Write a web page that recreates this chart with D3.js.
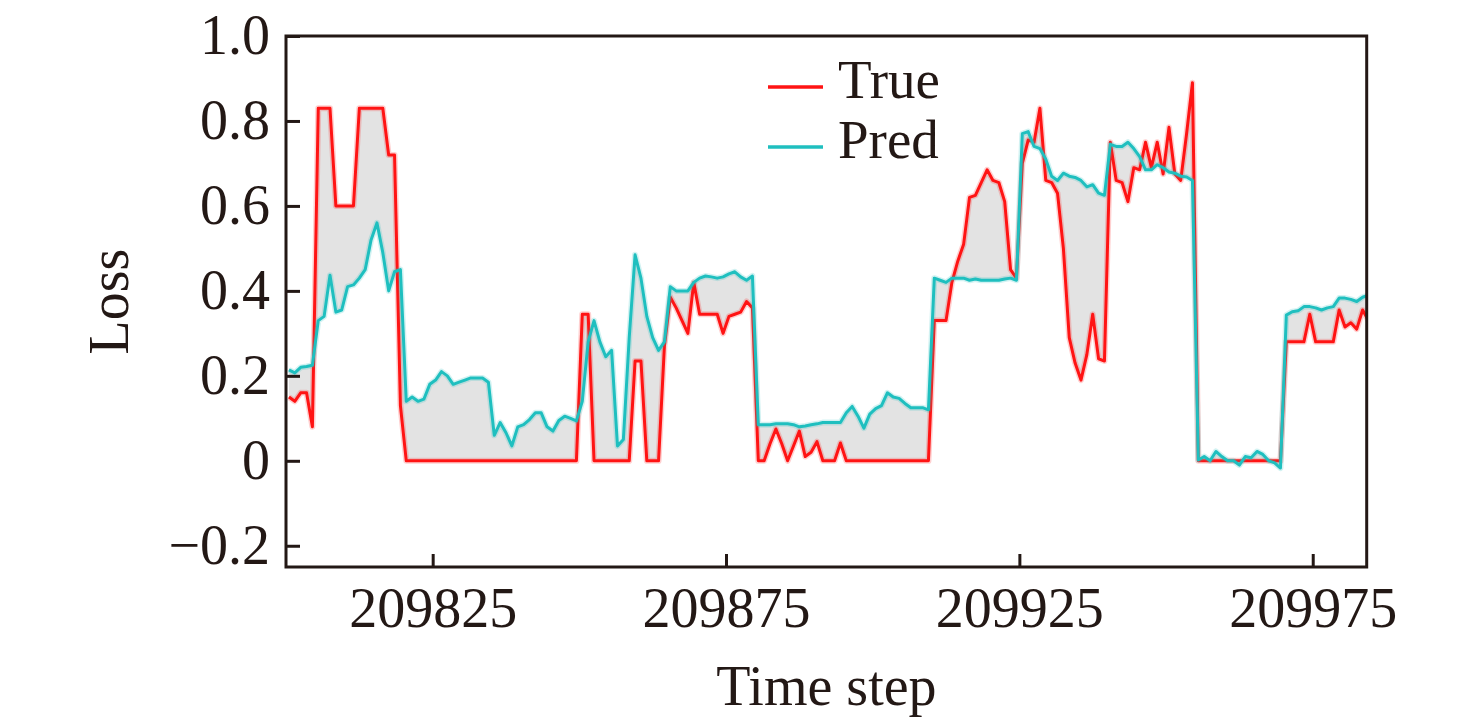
<!DOCTYPE html>
<html>
<head>
<meta charset="utf-8">
<script src="https://cdn.jsdelivr.net/npm/d3@7"></script>
<style>
  html, body { margin: 0; padding: 0; background: #fff; }
  svg { display: block; }
  text { font-family: "Liberation Serif", "Times New Roman", serif; fill: #231815; }
</style>
</head>
<body>
<svg id="chart"></svg>
<script>
// first sample position on the time axis, one value per step after it
const firstStep = 209800.5;

const trueLoss = [
  0.15, 0.14, 0.16, 0.16, 0.08, 0.83, 0.83, 0.83, 0.60, 0.60,
  0.60, 0.60, 0.83, 0.83, 0.83, 0.83, 0.83, 0.72, 0.72, 0.13,
  0, 0, 0, 0, 0, 0, 0, 0, 0, 0,
  0, 0, 0, 0, 0, 0, 0, 0, 0, 0,
  0, 0, 0, 0, 0, 0, 0, 0, 0, 0,
  0.345, 0.345, 0, 0, 0, 0, 0, 0, 0, 0.235,
  0.235, 0, 0, 0, 0.27, 0.385, 0.36, 0.33, 0.30, 0.42,
  0.345, 0.345, 0.345, 0.345, 0.30, 0.34, 0.345, 0.35, 0.375, 0.36,
  0, 0, 0.04, 0.075, 0.04, 0, 0.035, 0.07, 0.01, 0.02,
  0.045, 0, 0, 0, 0.042, 0, 0, 0, 0, 0,
  0, 0, 0, 0, 0, 0, 0, 0, 0, 0,
  0.33, 0.33, 0.33, 0.42, 0.47, 0.51, 0.62, 0.625, 0.655, 0.685,
  0.66, 0.655, 0.61, 0.45, 0.43, 0.70, 0.755, 0.75, 0.83, 0.66,
  0.655, 0.63, 0.50, 0.29, 0.23, 0.19, 0.25, 0.345, 0.24, 0.235,
  0.75, 0.66, 0.655, 0.61, 0.69, 0.685, 0.75, 0.69, 0.75, 0.675,
  0.785, 0.675, 0.66, 0.77, 0.89, 0, 0, 0, 0, 0,
  0, 0, 0, 0, 0, 0, 0, 0, 0, 0,
  0.28, 0.28, 0.28, 0.28, 0.345, 0.28, 0.28, 0.28, 0.28, 0.355,
  0.315, 0.325, 0.31, 0.355, 0.33
];

const predLoss = [
  0.214, 0.207, 0.22, 0.222, 0.225, 0.33, 0.34, 0.437, 0.35, 0.355,
  0.41, 0.414, 0.43, 0.45, 0.52, 0.56, 0.49, 0.40, 0.445, 0.45,
  0.14, 0.15, 0.14, 0.145, 0.18, 0.19, 0.21, 0.20, 0.18, 0.185,
  0.19, 0.195, 0.195, 0.195, 0.185, 0.06, 0.09, 0.066, 0.035, 0.08,
  0.085, 0.097, 0.113, 0.113, 0.08, 0.07, 0.095, 0.105, 0.10, 0.094,
  0.14, 0.28, 0.33, 0.28, 0.245, 0.26, 0.035, 0.05, 0.29, 0.485,
  0.43, 0.34, 0.29, 0.26, 0.28, 0.41, 0.40, 0.40, 0.40, 0.42,
  0.43, 0.435, 0.433, 0.43, 0.433, 0.44, 0.445, 0.433, 0.425, 0.435,
  0.085, 0.085, 0.085, 0.087, 0.087, 0.087, 0.085, 0.08, 0.082, 0.085,
  0.087, 0.09, 0.09, 0.09, 0.09, 0.113, 0.128, 0.105, 0.077, 0.11,
  0.123, 0.13, 0.16, 0.15, 0.147, 0.135, 0.125, 0.125, 0.125, 0.12,
  0.43, 0.425, 0.42, 0.43, 0.43, 0.43, 0.425, 0.428, 0.425, 0.425,
  0.425, 0.425, 0.428, 0.43, 0.425, 0.77, 0.775, 0.74, 0.735, 0.71,
  0.67, 0.66, 0.677, 0.67, 0.667, 0.66, 0.645, 0.65, 0.63, 0.625,
  0.745, 0.74, 0.74, 0.75, 0.735, 0.716, 0.685, 0.685, 0.697, 0.69,
  0.68, 0.677, 0.67, 0.668, 0.66, 0.002, 0.01, 0, 0.022, 0.01,
  0, 0, -0.01, 0.01, 0.007, 0.022, 0.015, 0, -0.005, -0.017,
  0.343, 0.351, 0.353, 0.363, 0.363, 0.36, 0.355, 0.36, 0.363, 0.383,
  0.383, 0.38, 0.375, 0.385, 0.39
];

const xTickValues = [209825, 209875, 209925, 209975];
const yTickValues = [-0.2, 0, 0.2, 0.4, 0.6, 0.8, 1.0];
const yTickLabels = ["\u22120.2", "0", "0.2", "0.4", "0.6", "0.8", "1.0"];
const seriesNames = ["True", "Pred"];
const seriesColors = ["#ff1414", "#1fbfbf"];

const width = 1476;
const height = 726;
const plotLeft = 286, plotRight = 1366.7, plotTop = 36, plotBottom = 567;
const fontSize = 56;

const svg = d3.select("#chart").attr("width", width).attr("height", height);

svg.append("defs").append("clipPath").attr("id", "plot-clip")
  .append("rect")
  .attr("x", plotLeft).attr("y", plotTop)
  .attr("width", plotRight - plotLeft).attr("height", plotBottom - plotTop);

const x = d3.scaleLinear().domain([209800, 209984.2]).range([plotLeft, plotRight]);
const y = d3.scaleLinear().domain([-0.25, 1.0]).range([plotBottom, plotTop]);

const rows = trueLoss.map((v, i) => ({ t: firstStep + i, real: v, pred: predLoss[i] }));

const plot = svg.append("g").attr("clip-path", "url(#plot-clip)");

// gray band between the two curves
plot.append("path")
  .datum(rows)
  .attr("fill", "#e3e3e3")
  .attr("d", d3.area()
    .x(d => x(d.t))
    .y0(d => y(d.real))
    .y1(d => y(d.pred)));

const lineTrue = d3.line().x(d => x(d.t)).y(d => y(d.real));
const linePred = d3.line().x(d => x(d.t)).y(d => y(d.pred));

// soft halo then the line itself
[[lineTrue, seriesColors[0]], [linePred, seriesColors[1]]].forEach(([gen, color]) => {
  plot.append("path").datum(rows)
    .attr("fill", "none").attr("stroke", color).attr("stroke-opacity", 0.2)
    .attr("stroke-width", 6).attr("stroke-linejoin", "round").attr("d", gen);
  plot.append("path").datum(rows)
    .attr("fill", "none").attr("stroke", color)
    .attr("stroke-width", 3).attr("stroke-linejoin", "round").attr("d", gen);
});

// axes, ticks pointing inward
const xAxis = svg.append("g")
  .attr("transform", `translate(0,${plotBottom})`)
  .call(d3.axisBottom(x).tickValues(xTickValues).tickFormat(d3.format("d"))
    .tickSizeInner(-13).tickSizeOuter(0).tickPadding(20));

const yAxis = svg.append("g")
  .attr("transform", `translate(${plotLeft},0)`)
  .call(d3.axisLeft(y).tickValues(yTickValues).tickFormat((d, i) => yTickLabels[i])
    .tickSizeInner(-14).tickSizeOuter(0).tickPadding(16));

[xAxis, yAxis].forEach(g => {
  g.select(".domain").remove();
  g.selectAll(".tick line").attr("stroke", "#231815").attr("stroke-width", 3);
  g.selectAll(".tick text")
    .attr("font-family", "Liberation Serif, Times New Roman, serif")
    .attr("font-size", fontSize)
    .attr("fill", "#231815");
});

// frame
svg.append("rect")
  .attr("x", plotLeft).attr("y", plotTop)
  .attr("width", plotRight - plotLeft).attr("height", plotBottom - plotTop)
  .attr("fill", "none").attr("stroke", "#231815").attr("stroke-width", 3);

// axis titles
svg.append("text")
  .attr("x", (plotLeft + plotRight) / 2).attr("y", 705)
  .attr("text-anchor", "middle").attr("font-size", fontSize)
  .text("Time step");

svg.append("text")
  .attr("transform", `translate(128,${(plotTop + plotBottom) / 2}) rotate(-90)`)
  .attr("text-anchor", "middle").attr("font-size", fontSize)
  .text("Loss");

// legend
const legend = svg.append("g").attr("transform", "translate(768,87)");
seriesNames.forEach((name, i) => {
  const row = legend.append("g").attr("transform", `translate(0,${i * 60})`);
  row.append("line")
    .attr("x1", 0).attr("x2", 55).attr("y1", 0).attr("y2", 0)
    .attr("stroke", seriesColors[i]).attr("stroke-width", 3.5);
  row.append("text")
    .attr("x", 70).attr("y", 11)
    .attr("font-size", 55)
    .text(name);
});
</script>
</body>
</html>
